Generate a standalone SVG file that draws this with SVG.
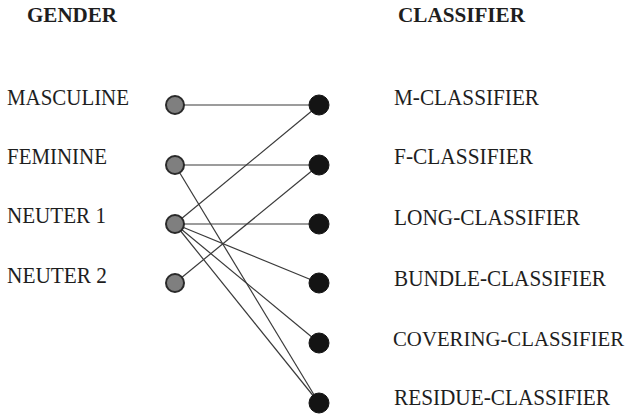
<svg xmlns="http://www.w3.org/2000/svg" width="631" height="416" viewBox="0 0 631 416">
<style>
.t{font-family:"Liberation Serif","Times New Roman",serif;font-size:22.5px;fill:#1e1e1e}
.h{font-weight:bold;font-size:21.5px}
.g{fill:#7f7f7f;stroke:#2a2a2a;stroke-width:2}
.c{fill:#141414;stroke:#141414;stroke-width:1}
.e{stroke:#3a3a3a;stroke-width:1.2;fill:none}
</style>
<rect width="631" height="416" fill="#ffffff"/>
<text class="t h" x="27" y="22" textLength="90" lengthAdjust="spacingAndGlyphs">GENDER</text>
<text class="t h" x="398" y="22" textLength="127" lengthAdjust="spacingAndGlyphs">CLASSIFIER</text>
<g id="connectors">
<line class="e" x1="175" y1="105" x2="319" y2="105"/>
<line class="e" x1="175" y1="165" x2="319" y2="165"/>
<line class="e" x1="175" y1="165" x2="319" y2="403"/>
<line class="e" x1="175" y1="224" x2="319" y2="105"/>
<line class="e" x1="175" y1="224" x2="319" y2="224"/>
<line class="e" x1="175" y1="224" x2="319" y2="283"/>
<line class="e" x1="175" y1="224" x2="319" y2="343"/>
<line class="e" x1="175" y1="224" x2="319" y2="403"/>
<line class="e" x1="175" y1="283" x2="319" y2="165"/>
</g>
<g id="masculine"><circle class="g" cx="175" cy="105" r="9"/><text class="t" x="7" y="105" textLength="122" lengthAdjust="spacingAndGlyphs">MASCULINE</text></g>
<g id="feminine"><circle class="g" cx="175" cy="165" r="9"/><text class="t" x="7" y="164" textLength="100" lengthAdjust="spacingAndGlyphs">FEMININE</text></g>
<g id="neuter1"><circle class="g" cx="175" cy="224" r="9"/><text class="t" x="7" y="223" textLength="99" lengthAdjust="spacingAndGlyphs">NEUTER 1</text></g>
<g id="neuter2"><circle class="g" cx="175" cy="283" r="9"/><text class="t" x="7" y="283" textLength="100" lengthAdjust="spacingAndGlyphs">NEUTER 2</text></g>
<g id="m-classifier"><circle class="c" cx="319" cy="105" r="10"/><text class="t" x="394" y="105" textLength="145" lengthAdjust="spacingAndGlyphs">M-CLASSIFIER</text></g>
<g id="f-classifier"><circle class="c" cx="319" cy="165" r="10"/><text class="t" x="394" y="164" textLength="139" lengthAdjust="spacingAndGlyphs">F-CLASSIFIER</text></g>
<g id="long-classifier"><circle class="c" cx="319" cy="224" r="10"/><text class="t" x="394" y="225" textLength="186" lengthAdjust="spacingAndGlyphs">LONG-CLASSIFIER</text></g>
<g id="bundle-classifier"><circle class="c" cx="319" cy="283" r="10"/><text class="t" x="394" y="286" textLength="212" lengthAdjust="spacingAndGlyphs">BUNDLE-CLASSIFIER</text></g>
<g id="covering-classifier"><circle class="c" cx="319" cy="343" r="10"/><text class="t" x="393" y="346" font-size="20.5" style="font-size:20.5px" textLength="231" lengthAdjust="spacingAndGlyphs">COVERING-CLASSIFIER</text></g>
<g id="residue-classifier"><circle class="c" cx="319" cy="403" r="10"/><text class="t" x="394" y="405" textLength="216" lengthAdjust="spacingAndGlyphs">RESIDUE-CLASSIFIER</text></g>
</svg>
